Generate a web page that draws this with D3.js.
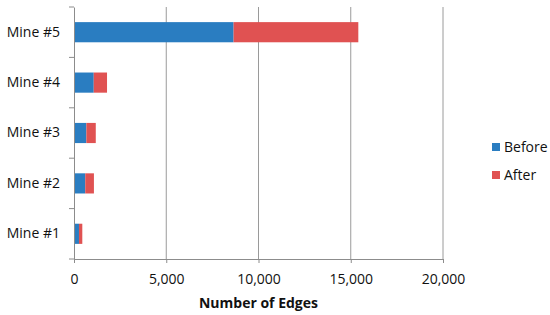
<!DOCTYPE html>
<html>
<head>
<meta charset="utf-8">
<script src="https://cdn.jsdelivr.net/npm/d3@7"></script>
<style>
  body { margin: 0; background: #fff; }
  text { font-family: "Open Sans", "Liberation Sans", sans-serif; fill: #111; }
</style>
</head>
<body>
<svg id="chart" width="550" height="315"></svg>
<script>
// data
const mines = ['Mine #1', 'Mine #2', 'Mine #3', 'Mine #4', 'Mine #5'];
const before = [270, 610, 670, 1070, 8650];
const after = [180, 470, 510, 720, 6760];
const seriesNames = ['Before', 'After'];
const xTicks = [0, 5000, 10000, 15000, 20000];

const colors = ['#2a7dc1', '#e05252'];
const margin = {left: 74, right: 107, top: 7, bottom: 56};
const width = 550, height = 315;

const svg = d3.select('#chart');

const x = d3.scaleLinear()
  .domain([0, 20000])
  .range([margin.left, width - margin.right]);

const y = d3.scaleBand()
  .domain(mines.slice().reverse())
  .range([margin.top, height - margin.bottom])
  .paddingInner(0.6)
  .paddingOuter(0.3);

// gridlines
svg.append('g')
  .selectAll('line')
  .data(xTicks.slice(1))
  .join('line')
  .attr('x1', d => x(d)).attr('x2', d => x(d))
  .attr('y1', margin.top).attr('y2', height - margin.bottom)
  .attr('stroke', '#9a9a9a').attr('stroke-width', 1);

// stacked bars
const rows = mines.map((m, i) => ({mine: m, Before: before[i], After: after[i]}));
const stacked = d3.stack().keys(seriesNames)(rows);

svg.append('g')
  .selectAll('g')
  .data(stacked)
  .join('g')
  .attr('fill', (d, i) => colors[i])
  .selectAll('rect')
  .data(d => d)
  .join('rect')
  .attr('x', d => x(d[0]))
  .attr('width', d => x(d[1]) - x(d[0]))
  .attr('y', d => y(d.data.mine))
  .attr('height', y.bandwidth());

// y axis
const yAxis = svg.append('g')
  .attr('transform', `translate(${margin.left},0)`)
  .call(d3.axisLeft(y).tickSize(0).tickPadding(14));
yAxis.select('.domain').attr('stroke', '#8c8c8c');
yAxis.selectAll('text').attr('font-size', 14).style('font-family', '"Open Sans", sans-serif');

// y tick marks between categories
const bounds = d3.range(mines.length + 1).map(i => margin.top + i * y.step());
svg.append('g')
  .selectAll('line')
  .data(bounds)
  .join('line')
  .attr('x1', margin.left - 5).attr('x2', margin.left)
  .attr('y1', d => d).attr('y2', d => d)
  .attr('stroke', '#8c8c8c');

// x axis
const xAxis = svg.append('g')
  .attr('transform', `translate(0,${height - margin.bottom})`)
  .call(d3.axisBottom(x).tickValues(xTicks).tickFormat(d3.format(',')).tickSize(4).tickPadding(11));
xAxis.select('.domain').attr('stroke', '#8c8c8c');
xAxis.selectAll('.tick line').attr('stroke', '#8c8c8c');
xAxis.selectAll('text').attr('font-size', 14).style('font-family', '"Open Sans", sans-serif');

// axis title
svg.append('text')
  .attr('x', x(10000))
  .attr('y', 308)
  .attr('text-anchor', 'middle')
  .attr('font-size', 14)
  .attr('font-weight', 'bold')
  .text('Number of Edges');

// legend
const legend = svg.append('g')
  .selectAll('g')
  .data(seriesNames)
  .join('g')
  .attr('transform', (d, i) => `translate(492,${147 + i * 28})`);
legend.append('rect')
  .attr('x', 0).attr('y', -4)
  .attr('width', 8).attr('height', 8)
  .attr('fill', (d, i) => colors[i]);
legend.append('text')
  .attr('x', 12).attr('y', 5)
  .attr('font-size', 14)
  .text(d => d);
</script>
</body>
</html>
